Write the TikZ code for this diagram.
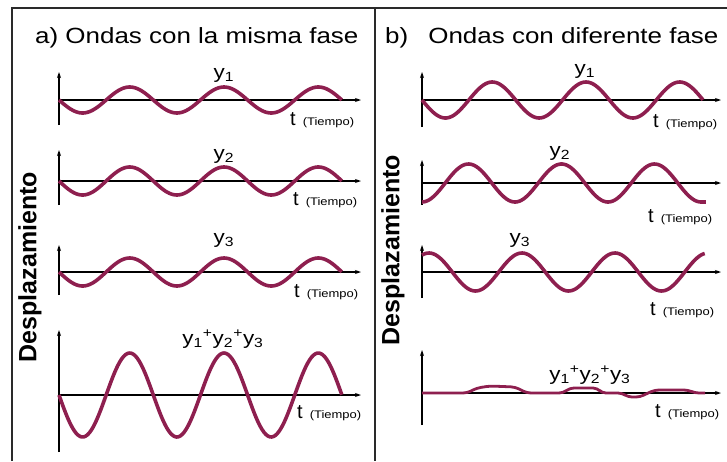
\documentclass[tikz,border=0pt]{standalone}
\usepackage{fontspec}
\setmainfont{Liberation Sans}
\usetikzlibrary{arrows.meta}
\definecolor{wavered}{HTML}{8E1F4F}
\definecolor{framegray}{HTML}{2A2A2A}
\newcommand{\wide}[1]{\scalebox{1.18}[1]{#1}}
\newcommand{\tiempo}{\hspace{7pt}\wide{\fontsize{11}{12}\selectfont(Tiempo)}}

\begin{document}
\begin{tikzpicture}[x=1pt, y=-1pt,
  frame/.style={draw=framegray, line width=2pt},
  axis/.style={-{Stealth[length=6pt, width=4pt]}, line width=1.1pt},
  wave/.style={draw=wavered, line width=3.6pt, line join=round, samples=150, smooth},
  title/.style={font=\fontsize{22}{24}\selectfont, anchor=base west, inner sep=0pt},
  side/.style={font=\fontsize{25}{28}\selectfont\bfseries, rotate=90, inner sep=0pt},
  ylab/.style={font=\fontsize{19}{21}\selectfont, inner sep=0pt},
  tlab/.style={font=\fontsize{20}{22}\selectfont, anchor=base west, inner sep=0pt},
]
  \useasboundingbox (0,0) rectangle (727,461);
  % marco
  \draw[frame] (12,461) -- (12,8) -- (727,8);
  \draw[frame] (375,8) -- (375,461);

  % a) ondas con la misma fase
  \node[title] (titA) at (35,43) {\wide{a) Ondas con la misma fase}};
  \node[side] (despA) at (30,267) {Desplazamiento};
  \foreach \yo/\amp/\ytop/\ybot in {100/13/72/125, 181/14/150/205, 272/14/245/295, 395/42/330/452} {
    \draw[axis] (59,\ybot) -- (59,\ytop);
    \draw[axis] (59,\yo) -- (361,\yo);
    \draw[wave] plot[domain=0:3] ({59+94.3*\x}, {\yo+\amp*sin(360*\x)});
  }
  \node[ylab] (ya1) at (224,75) {\wide{y\textsubscript{1}}};
  \node[ylab] (ya2) at (224,156) {\wide{y\textsubscript{2}}};
  \node[ylab] (ya3) at (224,240) {\wide{y\textsubscript{3}}};
  \node[ylab] (ya4) at (223,339) {\wide{y\textsubscript{1}\textsuperscript{+}y\textsubscript{2}\textsuperscript{+}y\textsubscript{3}}};
  \node[tlab] (ta1) at (290,125) {t\tiempo};
  \node[tlab] (ta2) at (293,205) {t\tiempo};
  \node[tlab] (ta3) at (294,297) {t\tiempo};
  \node[tlab] (ta4) at (297,418) {t\tiempo};

  % b) ondas con diferente fase
  \node[title] (titB) at (385,43) {\wide{b)\hspace{17pt}Ondas con diferente fase}};
  \node[side] (despB) at (393,250) {Desplazamiento};
  \foreach \yo/\ytop/\ybot in {100/72/127, 183/160/205, 272/245/298, 393/350/425} {
    \draw[axis] (422,\ybot) -- (422,\ytop);
    \draw[axis] (422,\yo) -- (721,\yo);
  }
  \draw[wave] plot[domain=0:3] ({422+93.7*\x}, {100+18*sin(360*\x)});
  \draw[wave] plot[domain=0:3] ({422+93*\x}, {183+19*cos(360*\x)}) -- ++(5,0);
  \draw[wave] plot[domain=0:3.04] ({422+93*\x}, {272-19*cos(360*(\x-0.075))});
  \draw[wave, line width=2.8pt, rounded corners=4pt] (422,393) -- (467,393) -- (477,388)
    -- (490,386) -- (515,387) -- (527,393) -- (563,393) -- (570,388) -- (597,388)
    -- (602,393) -- (622,393) -- (628,397) -- (640,397) -- (648,393) -- (655,390)
    -- (688,390) -- (695,393) -- (705,393);
  \node[ylab] (yb1) at (585,71) {\wide{y\textsubscript{1}}};
  \node[ylab] (yb2) at (560,153) {\wide{y\textsubscript{2}}};
  \node[ylab] (yb3) at (520,240) {\wide{y\textsubscript{3}}};
  \node[ylab] (yb4) at (590,375) {\wide{y\textsubscript{1}\textsuperscript{+}y\textsubscript{2}\textsuperscript{+}y\textsubscript{3}}};
  \node[tlab] (tb1) at (653,127) {t\tiempo};
  \node[tlab] (tb2) at (648,222) {t\tiempo};
  \node[tlab] (tb3) at (650,315) {t\tiempo};
  \node[tlab] (tb4) at (655,417) {t\tiempo};
\end{tikzpicture}
\end{document}
